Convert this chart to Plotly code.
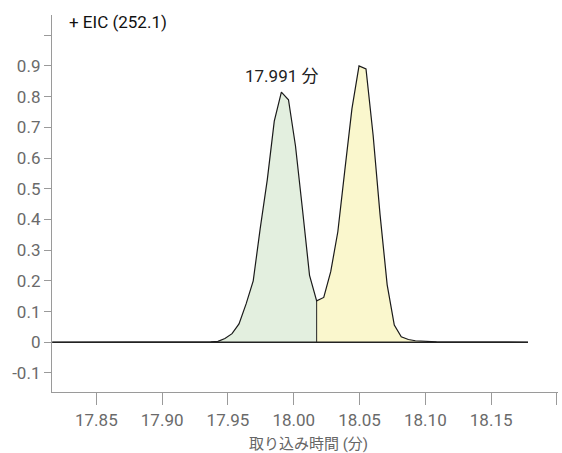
import plotly.graph_objects as go

# ---- data ----
times = [17.8165, 17.9300, 17.9370, 17.9424, 17.9477, 17.9531, 17.9584, 17.9638, 17.9692,
         17.9745, 17.9799, 17.9852, 17.9906, 17.9960, 18.0013, 18.0067, 18.0120,
         18.0174, 18.0228, 18.0281, 18.0335, 18.0388, 18.0442, 18.0496, 18.0549,
         18.0603, 18.0656, 18.0710, 18.0764, 18.0817, 18.0871, 18.0924, 18.0978,
         18.1032, 18.1085, 18.1780]
intensity = [0.0, 0.0, 0.001, 0.003, 0.012, 0.028, 0.060, 0.125, 0.200,
             0.370, 0.530, 0.720, 0.815, 0.790, 0.640, 0.430, 0.218,
             0.135, 0.146, 0.230, 0.360, 0.560, 0.760, 0.900, 0.890,
             0.675, 0.415, 0.187, 0.056, 0.018, 0.009, 0.005, 0.003,
             0.002, 0.001, 0.0]

peak1_start, split_time, peak2_end = 17.9300, 18.0174, 18.1085
peak1_apex_time = 17.9906
peak1_apex_value = 0.815
peak_label = "17.991 分"
title_text = "+ EIC (252.1)"
x_title = "取り込み時間 (分)"

x_ticks = [17.85, 17.90, 17.95, 18.00, 18.05, 18.10, 18.15, 18.20]
x_ticktext = ["17.85", "17.90", "17.95", "18.00", "18.05", "18.10", "18.15", ""]
y_ticks = [-0.1, 0.0, 0.1, 0.2, 0.3, 0.4, 0.5, 0.6, 0.7, 0.8, 0.9, 1.0]
y_ticktext = ["-0.1", "0", "0.1", "0.2", "0.3", "0.4", "0.5", "0.6", "0.7", "0.8", "0.9", ""]

# ---- split into peak regions ----
g_x = [t for t in times if peak1_start <= t <= split_time]
g_y = [v for t, v in zip(times, intensity) if peak1_start <= t <= split_time]
y_x = [t for t in times if split_time <= t <= peak2_end]
y_y = [v for t, v in zip(times, intensity) if split_time <= t <= peak2_end]
split_value = intensity[times.index(split_time)]

FONT = "Roboto, 'Noto Sans CJK JP', sans-serif"

fig = go.Figure()
fig.add_trace(go.Scatter(x=g_x, y=g_y, fill="tozeroy", fillcolor="#e3efdf",
                         mode="lines", line=dict(width=0), hoverinfo="skip"))
fig.add_trace(go.Scatter(x=y_x, y=y_y, fill="tozeroy", fillcolor="#faf7cd",
                         mode="lines", line=dict(width=0), hoverinfo="skip"))
fig.add_trace(go.Scatter(x=[split_time, split_time], y=[0, split_value], mode="lines",
                         line=dict(color="#222222", width=1)))
fig.add_trace(go.Scatter(x=times, y=intensity, mode="lines",
                         line=dict(color="#1a1a1a", width=1.2)))
fig.add_trace(go.Scatter(x=[times[0], times[-1]], y=[0, 0], mode="lines",
                         line=dict(color="#222222", width=1.6)))

fig.add_annotation(x=peak1_apex_time, y=peak1_apex_value, text=peak_label,
                   showarrow=False, yanchor="bottom", yshift=4,
                   font=dict(family=FONT, size=17, color="#222222"))
fig.add_annotation(xref="paper", yref="paper", x=0.029, y=0.981, text=title_text,
                   showarrow=False, xanchor="left", yanchor="middle",
                   font=dict(family=FONT, size=17, color="#111111"))
fig.add_annotation(xref="paper", yref="paper", x=0.506, y=-0.138, text=x_title,
                   showarrow=False, xanchor="center", yanchor="middle",
                   font=dict(family=FONT, size=15, color="#666666"))

axis_common = dict(showgrid=False, zeroline=False, showline=True, linecolor="#9a9a9a",
                   linewidth=1.3, ticks="outside", tickcolor="#9a9a9a", tickwidth=1.3,
                   tickfont=dict(family=FONT, size=17, color="#6a6a6a"))
fig.update_xaxes(range=[17.8163, 18.2008], tickmode="array", tickvals=x_ticks,
                 ticktext=x_ticktext, ticklen=12, **axis_common)
fig.update_yaxes(range=[-0.162, 1.066], tickmode="array", tickvals=y_ticks,
                 ticktext=y_ticktext, ticklen=7, **axis_common)

fig.update_layout(width=562, height=453, margin=dict(l=52, r=4, t=15, b=61),
                  plot_bgcolor="white", paper_bgcolor="white", showlegend=False,
                  font=dict(family=FONT))
fig.write_html("out.html")
